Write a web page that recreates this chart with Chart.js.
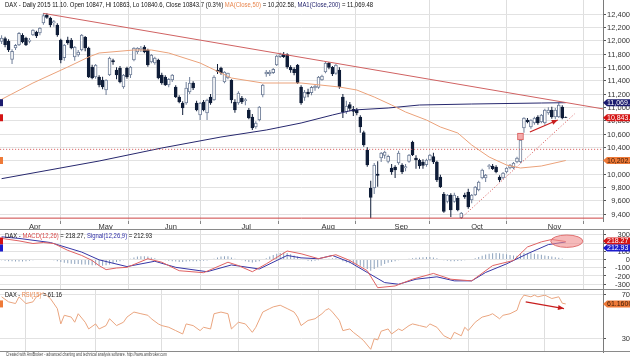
<!DOCTYPE html>
<html>
<head>
<meta charset="utf-8">
<title>DAX daily</title>
<script src="https://cdn.jsdelivr.net/npm/chart.js@4.4.1/dist/chart.umd.min.js"></script>
<style>
  html, body { margin: 0; padding: 0; background: #fff; }
  #wrap { position: relative; width: 630px; height: 358px; overflow: hidden; background: #fff; }
  #wrap canvas { position: absolute; left: 0; }
</style>
</head>
<body>
<div id="wrap">
  <canvas id="priceChart" width="630" height="230" style="top:0"></canvas>
  <canvas id="macdChart" width="630" height="60" style="top:230px"></canvas>
  <canvas id="rsiChart" width="630" height="68" style="top:290px"></canvas>
</div>
<script>
// bar index 0 = 1 Apr 2015, one step per trading day
const firstBar = -7;
const monthTicks = [0, 20, 39, 61, 84, 105, 127, 149];
const monthLabels = ["Apr", "May", "Jun", "Jul", "Aug", "Sep", "Oct", "Nov"];
const priceTicks = [12400, 12200, 12000, 11800, 11600, 11400, 11200, 11000, 10800, 10600, 10400, 10200, 10000, 9800, 9600, 9400];
const macdTicks = [300, 200, 100, 0, -100, -200, -300];
const rsiTicks = [70, 30];

const opens = [
  11990, 12030, 11990, 11720, 11890, 11935, 12080, 12040, 11990, 12085,
  12130, 12115, 12265, 12385, 12340, 12265, 12235, 12010, 11745, 12010,
  12010, 11755, 11785, 11860, 12050, 11890, 11605, 11455, 11455, 11410,
  11260, 11485, 11700, 11560, 11590, 11305, 11590, 11485, 11710, 11830,
  11870, 11905, 11860, 11680, 11665, 11710, 11485, 11455, 11335, 11410,
  11305, 11155, 11065, 11065, 11230, 11365, 11065, 10885, 11080, 10915,
  11155, 11110, 11560, 11590, 11380, 11440, 11410, 11080, 11065, 11140,
  11100, 10960, 10855, 10705, 10810, 11185, 11500, 11500, 11520, 11635,
  11760, 11800, 11790, 11600, 11570, 11635, 11305, 11150, 11230, 11220,
  11290, 11300, 11410, 11530, 11660, 11600, 11510, 11560, 11155, 10930,
  11040, 10970, 10960, 10855, 10620, 10360, 9790, 9790, 10000, 10240,
  10280, 10190, 10090, 10105, 10165, 10135, 10090, 10190, 10480, 10240,
  10205, 10180, 10140, 10210, 10260, 10180, 9955, 9700, 9590, 9685,
  9590, 9640, 9340, 9685, 9730, 9610, 9685, 9760, 9940, 9940,
  10110, 10120, 10105, 9955, 9940, 10030, 10090, 10090, 10180, 10180,
  10690, 10810, 10705, 10765, 10855, 10780, 10765, 10915, 10960, 10855,
  10855, 11005, 10847
];
const highs = [
  12080, 12060, 12020, 11870, 11950, 12130, 12110, 12060, 12040, 12170,
  12150, 12200, 12415, 12410, 12360, 12310, 12260, 12030, 11950, 12060,
  12040, 11920, 11860, 12100, 12070, 11910, 11640, 11650, 11480, 11460,
  11420, 11760, 11730, 11600, 11620, 11500, 11610, 11620, 11900, 11900,
  11920, 11930, 11880, 11800, 11760, 11730, 11520, 11480, 11440, 11500,
  11330, 11180, 11090, 11380, 11455, 11390, 11100, 11080, 11110, 11130,
  11200, 11480, 11650, 11610, 11540, 11520, 11420, 11120, 11240, 11170,
  11140, 10990, 10900, 10790, 11020, 11350, 11560, 11560, 11590, 11790,
  11820, 11830, 11810, 11630, 11600, 11650, 11330, 11260, 11280, 11320,
  11340, 11470, 11490, 11680, 11680, 11620, 11650, 11600, 11200, 11100,
  11080, 11020, 10990, 10880, 10650, 10400, 9900, 10165, 10190, 10330,
  10350, 10290, 10150, 10130, 10350, 10160, 10150, 10300, 10500, 10280,
  10230, 10220, 10230, 10300, 10320, 10200, 9990, 9730, 9700, 9710,
  9720, 9670, 9430, 9720, 9780, 9700, 9820, 9900, 10080, 10000,
  10150, 10150, 10130, 9980, 10030, 10100, 10150, 10180, 10260, 10520,
  10850, 10840, 10820, 10860, 10880, 10900, 10980, 11000, 11010, 10990,
  11070, 11030, 10863
];
const lows = [
  11950, 11900, 11830, 11650, 11860, 11920, 11960, 11920, 11960, 12070,
  12040, 12080, 12240, 12330, 12200, 12210, 12060, 11660, 11700, 11940,
  11870, 11700, 11760, 11840, 11840, 11440, 11420, 11430, 11300, 11270,
  11185, 11470, 11640, 11420, 11360, 11280, 11430, 11440, 11690, 11800,
  11830, 11810, 11610, 11660, 11640, 11420, 11340, 11320, 11300, 11380,
  11140, 11060, 10885, 11040, 11200, 11260, 10940, 10810, 10940, 10810,
  11040, 11100, 11500, 11490, 11360, 11420, 11060, 10920, 11040, 11050,
  11030, 10820, 10660, 10680, 10790, 11150, 11460, 11470, 11500, 11620,
  11740, 11740, 11580, 11520, 11480, 11350, 11040, 11100, 11150, 11180,
  11250, 11280, 11400, 11510, 11570, 11470, 11490, 11280, 10840, 10900,
  10940, 10870, 10880, 10620, 10410, 10110, 9338, 9700, 9810, 10180,
  10230, 10160, 9990, 9940, 10140, 10000, 10040, 10170, 10270, 10080,
  10080, 10080, 10110, 10190, 10150, 9880, 9790, 9420, 9560, 9355,
  9570, 9440, 9325, 9630, 9480, 9560, 9670, 9740, 9920, 9880,
  10070, 10060, 10010, 9880, 9920, 10010, 10070, 10070, 10160, 10160,
  10620, 10760, 10680, 10740, 10740, 10760, 10740, 10890, 10830, 10820,
  10840, 10820, 10840.6
];
const closes = [
  12040, 11940, 11860, 11840, 11930, 12110, 11980, 11935, 12010, 12160,
  12070, 12190, 12375, 12350, 12235, 12285, 12085, 11710, 11935, 11965,
  11890, 11905, 11830, 12085, 11890, 11455, 11440, 11635, 11335, 11305,
  11410, 11740, 11680, 11485, 11380, 11485, 11455, 11605, 11890, 11890,
  11885, 11830, 11635, 11785, 11740, 11440, 11365, 11335, 11420, 11485,
  11155, 11080, 10990, 11290, 11365, 11290, 10960, 11065, 10960, 11110,
  11065, 11455, 11540, 11515, 11530, 11515, 11110, 10960, 11215, 11080,
  11115, 10840, 10690, 10765, 11005, 11335, 11530, 11530, 11570, 11770,
  11790, 11760, 11605, 11560, 11520, 11365, 11065, 11230, 11200, 11300,
  11320, 11455, 11470, 11665, 11600, 11500, 11635, 11305, 10930, 11020,
  10985, 10940, 10915, 10705, 10435, 10135, 9648, 10135, 9980, 10315,
  10330, 10265, 10030, 10060, 10315, 10030, 10110, 10285, 10285, 10210,
  10120, 10130, 10210, 10285, 10180, 9910, 9810, 9440, 9685, 9460,
  9685, 9460, 9415, 9655, 9505, 9685, 9805, 9880, 10060, 9985,
  10125, 10080, 10030, 9910, 10015, 10090, 10135, 10165, 10240, 10510,
  10840, 10780, 10810, 10840, 10765, 10885, 10960, 10960, 10855, 10960,
  11035, 10840, 10843.7
];

const ma50X = [-7, 2, 12, 18, 21, 31, 36, 41, 50, 59, 68, 79, 90, 95, 100, 105, 109, 115, 119, 124, 128, 133, 138, 142, 148, 155];
const ma50Y = [11120, 11365, 11605, 11755, 11815, 11860, 11860, 11815, 11665, 11440, 11365, 11365, 11305, 11260, 11155, 11035, 10930, 10810, 10705, 10615, 10435, 10255, 10135, 10090, 10120, 10202.58];
const ma200X = [-7, 21, 39, 56, 69, 79, 88, 94, 104, 113, 128, 148, 155];
const ma200Y = [9930, 10195, 10390, 10555, 10660, 10765, 10885, 10960, 10990, 11035, 11050, 11065, 11069.48];

const resistanceX = [5, 167];
const resistanceY = [12410, 10965];
const supportLevel = 9338;
const gapLevel = 10370;
const riseX = [125, 157.5];
const riseY = [9340, 10900];
const priceArrowX = [144.7, 152.7];
const priceArrowY = [10630, 10810];
const gapBoxX = 142;
const gapBox = [10510, 10615];

const macdX = [-7, -2, 2, 5, 8, 12, 16, 19, 21, 23, 26, 29, 35, 39, 44, 51, 58, 61, 65, 69, 75, 79, 84, 89, 93, 98, 101, 106, 111, 117, 122, 128, 134, 140, 144, 148, 151, 155];
const macdY = [256, 226, 194, 206, 194, 111, 49, -12, -74, -123, -103, -95, 9, -33, -136, -160, -33, -74, -148, -53, 103, 70, 10, 58, -12, -136, -342, -321, -239, -169, -239, -259, -74, -12, 152, 214, 243, 218.27];
const signalX = [-7, -2, 7, 16, 21, 29, 37, 43, 52, 59, 67, 75, 79, 84, 88, 93, 98, 103, 107, 112, 118, 123, 128, 132, 138, 144, 150, 155];
const signalY = [275, 256, 206, 90, -4, -86, -21, -95, -148, -66, -115, 49, 20, 9, 49, -33, -157, -280, -300, -239, -210, -259, -259, -157, -53, 70, 181, 212.93];
const macdHist = [
  -10, -15, -20, -20, -25, -25, -25,
  -20, -15, -10, -5, 0, 5, 0, -5, -10,
  -20, -30, -40, -45, -50, -55, -55, -60, -60, -65, -70, -70, -72, -75,
  -70, -60, -45, -30, -20, -10, -5,
  10, 25, 35, 40, 40, 35, 25, 15, 5,
  -5, -10, -15, -20, -25, -30, -30, -25, -20, -20, -20, -18, -15, -12,
  -5, 10, 25, 35, 40, 38, 25, 10, 0,
  -10, -20, -30, -35, -30, -20, -5,
  15, 35, 55, 70, 80, 85, 80, 65, 50, 35,
  10, -5, -15, -20, -15, -10, -5, 5, 10, 15,
  15, 5, -20, -35, -45, -55, -65, -75, -95, -115, -135, -115, -95, -75, -55, -40,
  -30, -20, -10, -5, 5, 10, 15, 20, 25, 28, 30, 30, 25,
  15, 5, -10, -15, -20, -20, -18, -15, -10, -5, 0,
  15, 30, 45, 60, 70, 75, 78, 75, 70, 65, 55, 50, 45,
  70, 80, 78, 75, 70, 65, 58, 50, 42, 35, 27, 20, 12, 5
];
const macdMarkX = 155.3;
const macdMarkY = 222;

const rsiX = [-7, -5, -3, -2, 0, 2, 3, 5, 7, 9, 10, 11, 13, 14, 15, 17, 18, 20, 21, 23, 24, 26, 28, 29, 31, 33, 35, 36, 38, 39, 41, 43, 45, 46, 48, 50, 51, 53, 54, 56, 58, 59, 61, 63, 65, 66, 68, 70, 71, 73, 75, 77, 78, 79, 81, 83, 85, 86, 87, 88, 90, 91, 93, 94, 96, 97, 99, 100, 101, 102, 104, 105, 107, 108, 110, 111, 113, 115, 116, 118, 120, 122, 123, 125, 126, 127, 129, 131, 133, 134, 136, 137, 139, 141, 142, 143, 145, 146, 147, 149, 151, 153, 154, 155];
const rsiY = [67.5, 63, 61.5, 67.5, 61.5, 63, 67.5, 71.2, 66, 57, 43.3, 51, 49.4, 44.8, 52.4, 44.8, 38.8, 43.3, 38.8, 41.8, 47.9, 41.8, 44.8, 49.4, 53.9, 52.4, 51, 47.9, 43.3, 41.8, 40.3, 37.3, 34.3, 43.3, 41.8, 37.3, 40.3, 38.8, 52.4, 53.9, 52.4, 38.8, 44.8, 43.3, 35.8, 40.3, 53.9, 57, 58.5, 60, 57, 53.9, 49.4, 41.8, 46.4, 47.9, 52.4, 55.5, 57, 53.9, 46.4, 37.3, 38.8, 35.8, 31, 28.2, 20.6, 30, 29, 36.8, 38.8, 34.3, 38.8, 37.3, 41.8, 43.3, 41.8, 40.3, 43.3, 40.3, 32.7, 29.7, 35.8, 32.7, 40.3, 37.3, 44.8, 49.4, 51, 52.4, 47.9, 51, 52.4, 55.5, 64.5, 69, 67.5, 69, 67.5, 69, 66, 67.5, 61.8, 61.16];
const rsiArrowX = [143.5, 154.5];
const rsiArrowY = [63, 57];

const lastClose = 10843.7;
const ma50Last = 10202.58;
const ma200Last = 11069.48;
const macdLast = 218.27;
const signalLast = 212.93;
const rsiLast = 61.16;

const X_MIN = -7.46;
const X_MAX = 165.7;
const FONT = '"Liberation Sans", Arial, sans-serif';

const bars = opens.map((o, k) => firstBar + k);
const isUp = opens.map((o, k) => closes[k] >= o);
const pts = (xs, ys) => xs.map((x, k) => ({ x, y: ys[k] }));

function monthAxis(showLabels) {
  return {
    type: "linear",
    min: X_MIN,
    max: X_MAX,
    offset: false,
    afterBuildTicks(s) { s.ticks = monthTicks.map((v) => ({ value: v })); },
    afterFit(s) { s.height = showLabels ? 9 : 0; },
    grid: { color: "#dedede", drawTicks: showLabels, tickLength: 3, tickColor: "#888" },
    border: { display: false },
    ticks: {
      display: showLabels,
      autoSkip: false,
      maxRotation: 0,
      align: "start",
      labelOffset: 3,
      padding: -2,
      color: "#333",
      font: { family: FONT, size: 7.5 },
      callback: (v) => monthLabels[monthTicks.indexOf(v)]
    }
  };
}

function valueAxis(min, max, ticks) {
  return {
    position: "right",
    min,
    max,
    afterBuildTicks(s) { s.ticks = ticks.map((v) => ({ value: v })); },
    afterFit(s) { s.width = 27; },
    grid: { color: "#e2e2e2", tickLength: 3, tickColor: "#555" },
    border: { display: true, color: "#7a7a7a" },
    ticks: { display: false }
  };
}

function lineSet(data, color, extra) {
  return Object.assign({
    type: "line",
    data,
    borderColor: color,
    borderWidth: 1,
    pointRadius: 0,
    tension: 0,
    fill: false,
    order: 1
  }, extra || {});
}

function drawHeader(ctx, x, y, parts, size, width) {
  ctx.save();
  ctx.font = size + "px " + FONT;
  ctx.textBaseline = "alphabetic";
  const total = parts.reduce((sum, p) => sum + ctx.measureText(p[0]).width, 0);
  ctx.translate(x, y);
  ctx.scale(width / total, 1);
  let cx = 0;
  parts.forEach(([text, color]) => {
    ctx.fillStyle = color;
    ctx.fillText(text, cx, 0);
    cx += ctx.measureText(text).width;
  });
  ctx.restore();
}

function axisLabels(chart, values, fmt) {
  const ctx = chart.ctx;
  const s = chart.scales.y;
  ctx.save();
  ctx.font = "7.5px " + FONT;
  ctx.fillStyle = "#333";
  ctx.textAlign = "right";
  ctx.textBaseline = "middle";
  values.forEach((v) => ctx.fillText(fmt(v), 630, s.getPixelForValue(v) + 0.5));
  ctx.restore();
}

function valueTag(ctx, yc, bg, fg, text) {
  ctx.save();
  ctx.beginPath();
  ctx.moveTo(603, yc);
  ctx.lineTo(607, yc - 3.5);
  ctx.lineTo(632, yc - 3.5);
  ctx.lineTo(632, yc + 3.5);
  ctx.lineTo(607, yc + 3.5);
  ctx.closePath();
  ctx.fillStyle = bg;
  ctx.fill();
  ctx.fillRect(0, yc - 3.5, 3, 7);
  ctx.font = "7px " + FONT;
  ctx.fillStyle = fg;
  ctx.textBaseline = "middle";
  ctx.fillText(text, 607, yc + 0.5);
  ctx.restore();
}

function arrowHead(chart, xs, ys, color) {
  const ctx = chart.ctx;
  const sx = chart.scales.x;
  const sy = chart.scales.y;
  const x0 = sx.getPixelForValue(xs[0]), y0 = sy.getPixelForValue(ys[0]);
  const x1 = sx.getPixelForValue(xs[1]), y1 = sy.getPixelForValue(ys[1]);
  const a = Math.atan2(y1 - y0, x1 - x0);
  const len = 6, half = 2.5;
  ctx.save();
  ctx.fillStyle = color;
  ctx.beginPath();
  ctx.moveTo(x1, y1);
  ctx.lineTo(x1 - len * Math.cos(a) + half * Math.sin(a), y1 - len * Math.sin(a) - half * Math.cos(a));
  ctx.lineTo(x1 - len * Math.cos(a) - half * Math.sin(a), y1 - len * Math.sin(a) + half * Math.cos(a));
  ctx.closePath();
  ctx.fill();
  ctx.restore();
}

function separator(ctx, y) {
  ctx.save();
  ctx.strokeStyle = "#8a8a8a";
  ctx.lineWidth = 1;
  ctx.beginPath();
  ctx.moveTo(0, y);
  ctx.lineTo(630, y);
  ctx.stroke();
  ctx.restore();
}

const fmtPrice = (v) => v.toLocaleString("en-US");

const priceOverlay = {
  id: "priceOverlay",
  afterDatasetsDraw(chart) {
    arrowHead(chart, priceArrowX, priceArrowY, "#c81e1e");
  },
  afterDraw(chart) {
    const ctx = chart.ctx;
    const sy = chart.scales.y;
    drawHeader(ctx, 5, 7, [
      ["DAX - Daily 2015 11.10. Open 10847, Hi 10863, Lo 10840.6, Close 10843.7 (0.3%) ", "#111"],
      ["MA(Close,50)", "#e9874f"],
      [" = 10,202.58, ", "#111"],
      ["MA1(Close,200)", "#1f1f6b"],
      [" = 11,069.48", "#111"]
    ], 7, 368);
    axisLabels(chart, priceTicks, fmtPrice);
    valueTag(ctx, sy.getPixelForValue(ma200Last), "#1b1b6e", "#fff", "11,069.48");
    valueTag(ctx, sy.getPixelForValue(lastClose), "#d41414", "#fff", "10,843.7");
    valueTag(ctx, sy.getPixelForValue(ma50Last), "#ee7a38", "#3a1a08", "10,202.58");
    separator(ctx, 229.5);
  }
};

new Chart(document.getElementById("priceChart"), {
  type: "bar",
  data: {
    datasets: [
      {
        type: "bar",
        data: bars.map((x, k) => ({ x, y: [lows[k], highs[k]] })),
        backgroundColor: isUp.map((u) => (u ? "#6f7e98" : "#0f1d38")),
        barThickness: 1,
        inflateAmount: 0,
        grouped: false,
        order: 6
      },
      {
        type: "bar",
        data: bars.map((x, k) => ({ x, y: [opens[k], closes[k]] })),
        backgroundColor: isUp.map((u) => (u ? "#ffffff" : "#0f1d38")),
        borderColor: isUp.map((u) => (u ? "#6f7e98" : "#0f1d38")),
        borderWidth: 1,
        borderSkipped: false,
        barThickness: 3,
        grouped: false,
        order: 5
      },
      {
        type: "bar",
        data: [{ x: gapBoxX, y: gapBox }],
        backgroundColor: "#f4aaaa",
        borderColor: "#d85a5a",
        borderWidth: 1,
        borderSkipped: false,
        barThickness: 6,
        grouped: false,
        order: 4
      },
      lineSet(pts(ma50X, ma50Y), "#eba27a", { order: 3 }),
      lineSet(pts(ma200X, ma200Y), "#27286e", { order: 3 }),
      lineSet(pts(resistanceX, resistanceY), "#d06262"),
      lineSet([{ x: -10, y: supportLevel }, { x: 170, y: supportLevel }], "#cc4444"),
      lineSet([{ x: -10, y: gapLevel }, { x: 170, y: gapLevel }], "#d65050", { borderDash: [1, 2] }),
      lineSet(pts(riseX, riseY), "#d65050", { borderDash: [1, 2] }),
      lineSet(pts(priceArrowX, priceArrowY), "#c81e1e", { borderWidth: 1.2 })
    ]
  },
  options: {
    responsive: false,
    animation: false,
    devicePixelRatio: 1,
    layout: { padding: 0 },
    plugins: { legend: { display: false }, tooltip: { enabled: false } },
    scales: {
      x: monthAxis(true),
      y: valueAxis(9295, 12610, priceTicks)
    }
  },
  plugins: [priceOverlay]
});

const macdOverlay = {
  id: "macdOverlay",
  afterDatasetsDraw(chart) {
    const ctx = chart.ctx;
    const sx = chart.scales.x;
    const sy = chart.scales.y;
    const cx = sx.getPixelForValue(macdMarkX);
    const cy = sy.getPixelForValue(macdMarkY);
    const rx = sx.getPixelForValue(macdMarkX + 4.6) - cx;
    const ry = cy - sy.getPixelForValue(macdMarkY + 75);
    ctx.save();
    ctx.beginPath();
    ctx.ellipse(cx, cy, rx, ry, 0, 0, Math.PI * 2);
    ctx.fillStyle = "rgba(240, 140, 140, 0.6)";
    ctx.fill();
    ctx.strokeStyle = "#e07070";
    ctx.lineWidth = 1;
    ctx.stroke();
    ctx.restore();
  },
  afterDraw(chart) {
    const ctx = chart.ctx;
    const sy = chart.scales.y;
    drawHeader(ctx, 5, 7.5, [
      ["DAX - ", "#111"],
      ["MACD(12,26)", "#d84a4a"],
      [" = 218.27, ", "#111"],
      ["Signal(12,26,9)", "#3030a8"],
      [" = 212.93", "#111"]
    ], 7, 147);
    axisLabels(chart, macdTicks, (v) => String(v));
    const yMacd = sy.getPixelForValue(macdLast);
    valueTag(ctx, yMacd - 0.5, "#d41414", "#fff", "218.27");
    valueTag(ctx, yMacd + 6.5, "#1c1ccc", "#fff", "212.93");
    separator(ctx, 59.5);
  }
};

new Chart(document.getElementById("macdChart"), {
  type: "bar",
  data: {
    datasets: [
      {
        type: "bar",
        data: bars.map((x, k) => ({ x, y: macdHist[k] })),
        backgroundColor: "#8ea3bd",
        barThickness: 1,
        inflateAmount: 0,
        grouped: false,
        order: 3
      },
      lineSet(pts(signalX, signalY), "#3636a6", { order: 2 }),
      lineSet(pts(macdX, macdY), "#e06262", { order: 1 })
    ]
  },
  options: {
    responsive: false,
    animation: false,
    devicePixelRatio: 1,
    layout: { padding: 0 },
    plugins: { legend: { display: false }, tooltip: { enabled: false } },
    scales: {
      x: monthAxis(false),
      y: valueAxis(-370, 358, macdTicks)
    }
  },
  plugins: [macdOverlay]
});

const rsiOverlay = {
  id: "rsiOverlay",
  afterDatasetsDraw(chart) {
    arrowHead(chart, rsiArrowX, rsiArrowY, "#c81e1e");
  },
  afterDraw(chart) {
    const ctx = chart.ctx;
    const sy = chart.scales.y;
    drawHeader(ctx, 5, 7, [
      ["DAX - ", "#111"],
      ["RSI(15)", "#e9874f"],
      [" = 61.16", "#111"]
    ], 7, 57);
    axisLabels(chart, rsiTicks, (v) => String(v));
    valueTag(ctx, sy.getPixelForValue(rsiLast), "#ee7a38", "#3a1a08", "61.1600");
    separator(ctx, 61.5);
    drawHeader(ctx, 6, 66, [
      ["Created with AmiBroker - advanced charting and technical analysis software. http://www.amibroker.com", "#444"]
    ], 4.5, 161);
  }
};

new Chart(document.getElementById("rsiChart"), {
  type: "line",
  data: {
    datasets: [
      lineSet(pts(rsiX, rsiY), "#eaa57f", { order: 2 }),
      lineSet(pts(rsiArrowX, rsiArrowY), "#c81e1e", { borderWidth: 1.2 })
    ]
  },
  options: {
    responsive: false,
    animation: false,
    devicePixelRatio: 1,
    layout: { padding: { bottom: 6 } },
    plugins: { legend: { display: false }, tooltip: { enabled: false } },
    scales: {
      x: monthAxis(false),
      y: valueAxis(18.2, 73.6, rsiTicks)
    }
  },
  plugins: [rsiOverlay]
});
</script>
</body>
</html>
